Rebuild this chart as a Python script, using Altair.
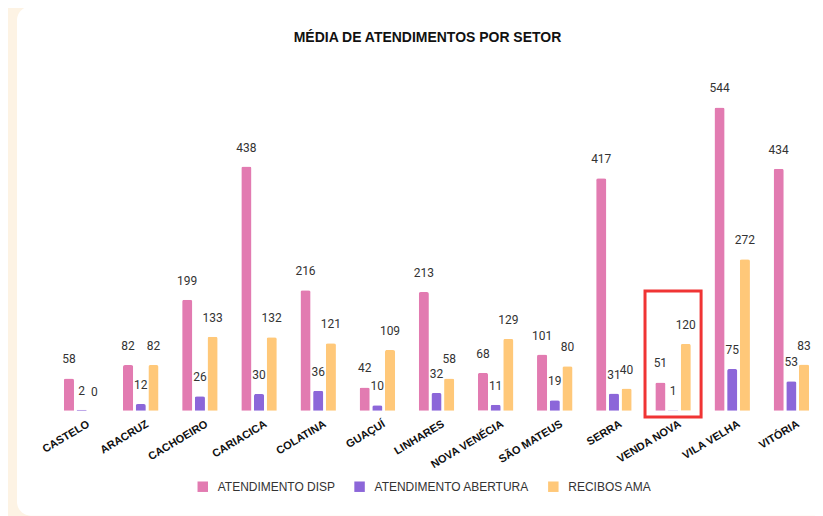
import altair as alt
import pandas as pd

chart_title = "MÉDIA DE ATENDIMENTOS POR SETOR"
categories = ["CASTELO", "ARACRUZ", "CACHOEIRO", "CARIACICA", "COLATINA", "GUAÇUÍ",
              "LINHARES", "NOVA VENÉCIA", "SÃO MATEUS", "SERRA", "VENDA NOVA",
              "VILA VELHA", "VITÓRIA"]
series = ["ATENDIMENTO DISP", "ATENDIMENTO ABERTURA", "RECIBOS AMA"]
disp = [58, 82, 199, 438, 216, 42, 213, 68, 101, 417, 51, 544, 434]
abertura = [2, 12, 26, 30, 36, 10, 32, 11, 19, 31, 1, 75, 53]
recibos = [0, 82, 133, 132, 121, 109, 58, 129, 80, 40, 120, 272, 83]
colors = ["#E27BB1", "#8C66D9", "#FFC879"]
highlight = ["VENDA NOVA"]
highlight_low = [-11]
highlight_high = [215]

rows = []
for s, vals in zip(series, [disp, abertura, recibos]):
    for c, v in zip(categories, vals):
        rows.append({"setor": c, "serie": s, "valor": v})
df = pd.DataFrame(rows)
hl = pd.DataFrame({"setor": highlight, "lo": highlight_low, "hi": highlight_high})
card = pd.DataFrame({"c": [0]})
ttl = pd.DataFrame({"t": [chart_title]})

x_enc = alt.X(
    "setor:N", sort=categories,
    scale=alt.Scale(paddingInner=0.4, paddingOuter=0.1),
    axis=alt.Axis(title=None, labelAngle=-31, labelAlign="right", labelBaseline="top",
                  labelFontWeight="bold", labelFontSize=11, labelColor="#111",
                  labelFont="Liberation Sans", domain=False, ticks=False,
                  labelPadding=7, labelOffset=4, grid=False, zindex=2),
)
y_enc = alt.Y("valor:Q", scale=alt.Scale(domain=[0, 600]), axis=None)
xoff = alt.XOffset("serie:N", sort=series, scale=alt.Scale(paddingInner=0.2))

card_layer = alt.Chart(card).mark_rect(fill="white", cornerRadius=14).encode(
    x=alt.value(-41), x2=alt.value(800), y=alt.value(-70), y2=alt.value(440)
)

title_layer = alt.Chart(ttl).mark_text(
    fontSize=14, font="Liberation Sans", fontWeight="bold", color="#111",
    align="center", baseline="middle"
).encode(text="t:N", x=alt.value(370), y=alt.value(-38))

bars = alt.Chart(df).mark_bar(cornerRadiusTopLeft=2, cornerRadiusTopRight=2).encode(
    x=x_enc, y=y_enc, xOffset=xoff,
    color=alt.Color(
        "serie:N", sort=series,
        scale=alt.Scale(domain=series, range=colors),
        legend=alt.Legend(title=None, orient="none", legendX=139, legendY=405,
                          direction="horizontal", symbolType="square", symbolSize=110,
                          symbolStrokeWidth=0, symbolOpacity=1,
                          labelFontSize=12, labelFont="Liberation Sans",
                          labelColor="#333", labelOffset=9, columnPadding=18, zindex=2),
    ),
)

labels = alt.Chart(df).mark_text(dy=-19, fontSize=12, font="Roboto", color="#333").encode(
    x=alt.X("setor:N", sort=categories), y=y_enc, xOffset=xoff, text="valor:Q"
)

box = alt.Chart(hl).mark_bar(filled=False, fill=None, stroke="#F03434", strokeWidth=3,
                             width=alt.RelativeBandSize(1.58)).encode(
    x=alt.X("setor:N", sort=categories), y=alt.Y("lo:Q"), y2="hi:Q"
)

chart = alt.layer(card_layer, title_layer, bars, labels, box).properties(
    width=758, height=335,
    autosize=alt.AutoSizeParams(type="none"),
    padding={"left": 50, "top": 68, "right": 0, "bottom": 105},
).configure(background="#FDF3E4").configure_view(stroke=None)

chart.save("out.html", embed_options={"renderer": "svg", "actions": False})
